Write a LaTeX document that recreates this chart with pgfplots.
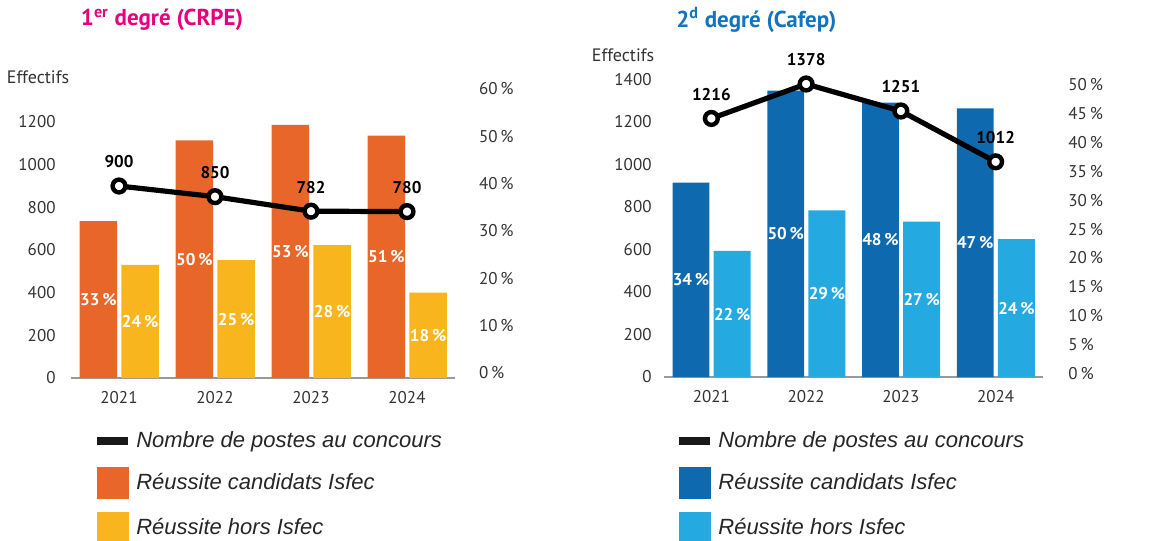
\documentclass[border=0pt]{standalone}
\usepackage{pgfplots}
\pgfplotsset{compat=1.18}
\usepackage{fontspec}
\setmainfont{PT Sans}
\newfontfamily\legfont{Liberation Sans}

\definecolor{orangeI}{HTML}{E9662A}
\definecolor{yellowH}{HTML}{F8B51D}
\definecolor{blueI}{HTML}{0F69AF}
\definecolor{blueH}{HTML}{24AAE1}
\definecolor{magentaT}{HTML}{E6007E}
\definecolor{blueT}{HTML}{1273BE}
\definecolor{txt}{HTML}{333333}

\pgfplotsset{
  panel/.style={
    scale only axis,
    xmin=0.5, xmax=4.5, ymin=0,
    separate axis lines,
    axis x line*=bottom, axis y line*=left,
    x axis line style={draw=gray!80, line width=1pt, -},
    y axis line style={draw=none},
    tick style={draw=none},
    xtick={1,2,3,4}, xticklabels={2021,2022,2023,2024},
    xticklabel style={font=\fontsize{8.5}{10}\selectfont, text=txt, yshift=-3pt},
    yticklabel style={font=\fontsize{8.5}{10}\selectfont, text=txt},
    /pgf/number format/assume math mode=true,
    /pgf/number format/1000 sep={},
    ylabel style={rotate=-90, font=\fontsize{9}{11}\selectfont, text=txt, anchor=center},
    every axis title shift=0pt,
    title style={font=\fontsize{11.5}{13}\selectfont\bfseries, anchor=center},
    legend cell align=left,
    legend style={draw=none, fill=none, inner sep=0pt,
      font=\legfont\itshape\fontsize{11}{13}\selectfont, text=black!85,
      row sep=6.25pt,
      /tikz/every odd column/.append style={column sep=0pt}},
  },
  pct/.style={
    scale only axis,
    xmin=0.5, xmax=4.5,
    hide x axis,
    axis y line*=right,
    y axis line style={draw=none},
    tick style={draw=none},
    yticklabel style={font=\fontsize{8.5}{10}\selectfont, text=txt, anchor=west},
    /pgf/number format/assume math mode=true,
    yticklabel={\pgfmathprintnumber{\tick}\,\%},
  },
  postes/.style={black, line width=2.6pt, mark=*, mark size=3.2pt,
    mark options={fill=white, draw=black, line width=2.2pt},
    nodes near coords,
    every node near coord/.append style={font=\fontsize{8.5}{10}\selectfont\bfseries, text=black, anchor=south, yshift=4.5pt}},
  inbar/.style={draw=none, mark=none, nodes near coords, point meta=explicit symbolic,
    every node near coord/.append style={font=\fontsize{8.5}{10}\selectfont\bfseries, text=white, anchor=center}},
  lineleg/.style={legend image code/.code={\draw[line width=4pt, black!90] (0pt,0pt) -- (15.5pt,0pt);}},
  boxleg/.style={legend image code/.code={\fill[#1] (0pt,-7.75pt) rectangle (15.5pt,7.75pt);}},
}

\begin{document}
\begin{tikzpicture}
\useasboundingbox (0,0) rectangle (584pt,-270.5pt);

% ---- 1er degre
\begin{axis}[panel,
    at={(35.5pt,-189pt)}, anchor=south west,
    width=192pt, height=159pt, ymax=1490.6,
    ytick={0,200,...,1200},
    yticklabel style={xshift=-4.2pt},
    ylabel={Effectifs},
    ylabel style={at={(axis description cs:-0.086,0.9465)}},
    title={\textcolor{magentaT}{1\textsuperscript{er} degré (CRPE)}},
    title style={at={(axis description cs:0.237,1.126)}},
    legend style={at={(axis description cs:0.057,-0.1554)}, anchor=north west},
]
\addlegendimage{lineleg}
\addlegendentry{Nombre de postes au concours}
\addlegendimage{boxleg=orangeI}
\addlegendentry{Réussite candidats Isfec}
\addlegendimage{boxleg=yellowH}
\addlegendentry{Réussite hors Isfec}

\addplot[ybar, bar width=0.39, bar shift=-0.215, fill=orangeI, draw=none, forget plot]
  coordinates {(1,735) (2,1114) (3,1186) (4,1136)};
\addplot[ybar, bar width=0.39, bar shift=0.22, fill=yellowH, draw=none, forget plot]
  coordinates {(1,530) (2,553) (3,623) (4,400)};
\addplot[inbar, forget plot] coordinates {
  (0.785,367)[33\,\%] (1.785,557)[50\,\%] (2.785,593)[53\,\%] (3.785,568)[51\,\%]
  (1.22,265)[24\,\%] (2.22,276)[25\,\%] (3.22,311)[28\,\%] (4.22,200)[18\,\%]};
\addplot[postes, forget plot] coordinates {(1,900) (2,850) (3,782) (4,780)};
\end{axis}

\begin{axis}[pct,
    at={(35.5pt,-189pt)}, anchor=south west,
    width=192pt, height=159pt,
    ymin=-1.056, ymax=66.13,
    ytick={0,10,...,60},
    yticklabel style={xshift=8.5pt},
]
\end{axis}

% ---- 2d degre
\begin{axis}[panel,
    at={(332pt,-188.5pt)}, anchor=south west,
    width=189.5pt, height=158.5pt, ymax=1490.9,
    ytick={0,200,...,1400},
    yticklabel style={xshift=-2.7pt},
    ylabel={Effectifs},
    ylabel style={at={(axis description cs:-0.108,1.0158)}},
    title={\textcolor{blueT}{2\textsuperscript{d} degré (Cafep)}},
    title style={at={(axis description cs:0.2435,1.1262)}},
    legend style={at={(axis description cs:0.029,-0.1593)}, anchor=north west},
]
\addlegendimage{lineleg}
\addlegendentry{Nombre de postes au concours}
\addlegendimage{boxleg=blueI}
\addlegendentry{Réussite candidats Isfec}
\addlegendimage{boxleg=blueH}
\addlegendentry{Réussite hors Isfec}

\addplot[ybar, bar width=0.39, bar shift=-0.215, fill=blueI, draw=none, forget plot]
  coordinates {(1,914) (2,1347) (3,1290) (4,1264)};
\addplot[ybar, bar width=0.39, bar shift=0.22, fill=blueH, draw=none, forget plot]
  coordinates {(1,593) (2,784) (3,731) (4,648)};
\addplot[inbar, forget plot] coordinates {
  (0.785,457)[34\,\%] (1.785,673)[50\,\%] (2.785,645)[48\,\%] (3.785,632)[47\,\%]
  (1.22,296)[22\,\%] (2.22,392)[29\,\%] (3.22,365)[27\,\%] (4.22,324)[24\,\%]};
\addplot[postes, forget plot] coordinates {(1,1216) (2,1378) (3,1251) (4,1012)};
\end{axis}

\begin{axis}[pct,
    at={(332pt,-188.5pt)}, anchor=south west,
    width=189.5pt, height=158.5pt,
    ymin=-0.64, ymax=54.33,
    ytick={0,5,...,50},
    yticklabel style={xshift=9.2pt},
]
\end{axis}
\end{tikzpicture}
\end{document}
